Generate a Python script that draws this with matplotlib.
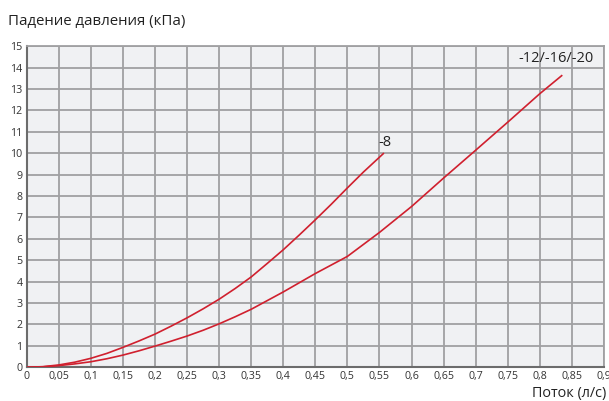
import matplotlib.pyplot as plt

plt.rcParams['font.family'] = ['Open Sans', 'DejaVu Sans']

# Pressure drop curves (kPa) vs flow (l/s)
flow_8 = [0, 0.025, 0.05, 0.075, 0.1, 0.125, 0.15, 0.175, 0.2, 0.225, 0.25, 0.275,
          0.3, 0.325, 0.35, 0.375, 0.4, 0.425, 0.45, 0.475, 0.5, 0.525, 0.556]
drop_8 = [0, 0.03, 0.11, 0.24, 0.42, 0.65, 0.93, 1.23, 1.55, 1.92, 2.31, 2.73,
          3.18, 3.68, 4.22, 4.85, 5.49, 6.18, 6.89, 7.62, 8.38, 9.12, 9.98]

flow_12 = [0, 0.025, 0.05, 0.075, 0.1, 0.125, 0.15, 0.175, 0.2, 0.225, 0.25, 0.275,
           0.3, 0.325, 0.35, 0.4, 0.45, 0.5, 0.55, 0.6, 0.65, 0.7, 0.75, 0.8, 0.834]
drop_12 = [0, 0.02, 0.08, 0.16, 0.26, 0.4, 0.57, 0.77, 0.99, 1.22, 1.46, 1.73,
           2.03, 2.36, 2.71, 3.52, 4.38, 5.18, 6.3, 7.51, 8.84, 10.14, 11.45, 12.78, 13.62]

x_ticks = [i * 0.05 for i in range(19)]
x_labels = ['0', '0,05', '0,1', '0,15', '0,2', '0,25', '0,3', '0,35', '0,4', '0,45',
            '0,5', '0,55', '0,6', '0,65', '0,7', '0,75', '0,8', '0,85', '0,9']
y_ticks = list(range(16))

red = '#d0202e'
grid = '#a0a0a2'

fig = plt.figure(figsize=(6.09, 4.01), dpi=100)
ax = fig.add_axes([0.0438, 0.084, 0.948, 0.801])
ax.set_facecolor('#f0f1f3')

ax.plot(flow_8, drop_8, color=red, lw=1.2, zorder=3, solid_joinstyle='round')
ax.plot(flow_12, drop_12, color=red, lw=1.2, zorder=3, solid_joinstyle='round')

ax.text(0.549, 10.15, '-8', fontsize=10.5, color='#222222', ha='left', va='bottom')
ax.text(0.766, 14.08, '-12/-16/-20', fontsize=10.5, color='#222222', ha='left', va='bottom')

ax.set_xlim(0, 0.9)
ax.set_ylim(0, 15)
ax.set_xticks(x_ticks)
ax.set_xticklabels(x_labels)
ax.set_yticks(y_ticks)
ax.set_yticklabels([str(v) for v in y_ticks])
ax.tick_params(length=0, labelsize=7.7, colors='#333333', pad=3)
ax.grid(True, color=grid, lw=1.3)
ax.set_axisbelow(True)

for side in ['top', 'right']:
    ax.spines[side].set_color(grid)
    ax.spines[side].set_linewidth(1.3)
for side in ['left', 'bottom']:
    ax.spines[side].set_color('#6c6c6c')
    ax.spines[side].set_linewidth(1.5)

fig.text(8 / 609, 1 - 25 / 401, 'Падение давления (кПа)', fontsize=10.8, color='#222222',
         ha='left', va='baseline')
fig.text(606 / 609, 1 - 397 / 401, 'Поток (л/с)', fontsize=10.4, color='#222222',
         ha='right', va='baseline')

fig.savefig('out.png', dpi=100)
